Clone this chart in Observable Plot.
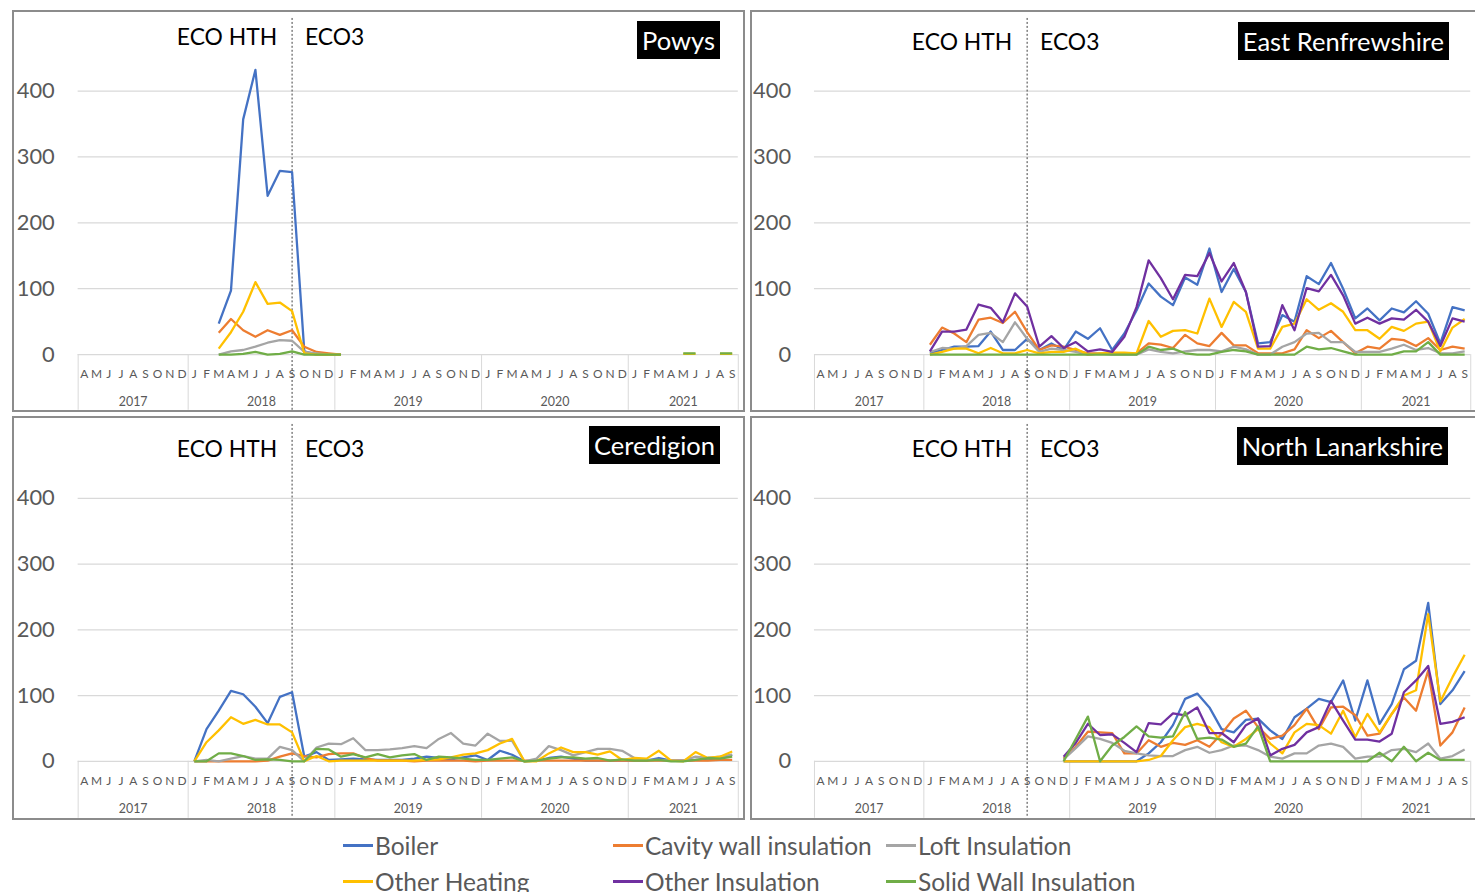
<!DOCTYPE html>
<html>
<head>
<meta charset="utf-8">
<script src="https://cdn.jsdelivr.net/npm/d3@7"></script>
<script src="https://cdn.jsdelivr.net/npm/@observablehq/plot@0.6"></script>
<style>
html, body { margin: 0; padding: 0; background: #fff; overflow: hidden; width: 1475px; height: 892px; }
#root { position: relative; width: 1475px; height: 892px; font-family: Lato, "Open Sans", sans-serif; }
.panel { position: absolute; box-sizing: border-box; border: 2px solid #8c8c8c; background: #fff; }
.panel svg { position: absolute; left: -2px; top: -2px; overflow: visible; }
.tag { position: absolute; background: #000; color: #fff; font-size: 25.5px; height: 38px; line-height: 38px; padding: 0 5px; white-space: nowrap; }
.leg { position: absolute; display: flex; align-items: center; height: 30px; font-size: 24.5px; color: #595959; white-space: nowrap; }
.leg .sw { display: inline-block; width: 30px; height: 3px; margin-right: 2px; }
</style>
</head>
<body>
<div id="root"></div>
<script>
// ---------- categories ----------
const monthInitials = ["J","F","M","A","M","J","J","A","S","O","N","D"];
const firstMonth = 3;          // April 2017 is month index 0
const monthCount = 54;         // Apr 2017 .. Sep 2021
const years = ["2017","2018","2019","2020","2021"];
const phaseLabels = ["ECO HTH", "ECO3"];
const phaseChange = 17;        // Sep 2018
const yTicks = [0, 100, 200, 300, 400];

const seriesNames = ["Boiler","Cavity wall insulation","Loft Insulation","Other Heating","Other Insulation","Solid Wall Insulation"];
const seriesColors = ["#4472C4","#ED7D31","#A5A5A5","#FFC000","#7030A0","#70AD47"];
const regionNames = ["Powys","East Renfrewshire","Ceredigion","North Lanarkshire"];

// ---------- Powys (from Mar 2018) ----------
const powysStart = 11;
const powysBoiler   = [47,97,357,432,241,279,277,5,0,0,0];
const powysCavity   = [33,54,37,27,37,30,37,12,4,2,0];
const powysLoft     = [0,5,7,12,18,22,21,4,2,0,0];
const powysHeating  = [9,34,65,110,77,79,66,2,0,0,0];
const powysSolid    = [0,0,1,4,0,1,5,0,0,0,0];
const powysLateStart = 49;     // May 2021
const powysHeatingLate = [1,1,null,1,1];
const powysSolidLate   = [2,2,null,2,2];

// ---------- East Renfrewshire (from Jan 2018) ----------
const eastStart = 9;
const eastBoiler  = [2,7,12,12,13,35,7,7,24,7,17,7,35,24,40,7,32,67,108,88,75,117,106,161,95,130,95,17,19,60,50,119,107,139,100,55,70,52,70,64,81,62,17,72,67];
const eastCavity  = [15,41,32,19,53,56,48,65,34,7,14,12,7,2,2,2,1,2,17,15,10,30,17,13,33,14,14,2,2,2,8,37,25,36,19,2,12,9,24,22,13,25,7,12,9];
const eastLoft    = [4,10,9,13,30,33,19,49,24,4,9,7,4,0,2,0,0,0,8,4,2,5,7,7,5,12,8,0,0,12,19,32,33,19,19,4,4,4,9,15,7,10,2,2,5];
const eastHeating = [0,4,9,9,2,10,2,2,7,2,4,4,9,0,2,3,3,2,51,27,36,37,32,85,42,80,65,9,9,42,47,84,68,78,65,37,37,24,42,36,47,50,5,41,54];
const eastOtherIns= [5,35,35,38,76,71,49,93,73,12,28,10,19,5,8,4,27,72,143,116,84,121,119,154,111,139,95,12,13,75,37,101,96,121,90,47,56,47,55,53,68,50,13,55,50];
const eastSolid   = [0,0,0,0,0,0,0,0,0,0,0,0,0,0,0,0,0,0,12,7,9,2,0,0,4,7,5,0,0,0,0,12,8,10,5,0,0,0,0,5,5,19,0,0,0];

// ---------- Ceredigion (from Jan 2018) ----------
const ceredStart = 9;
const ceredBoiler  = [0,49,77,107,102,83,58,98,105,7,14,2,3,4,3,2,2,2,4,7,5,3,6,9,2,16,10,0,1,5,7,4,1,1,1,1,1,1,5,1,1,2,2,4,10];
const ceredCavity  = [0,0,0,0,0,0,1,7,12,8,6,11,12,12,5,1,1,1,0,1,1,1,1,0,1,1,1,1,1,1,1,1,1,1,1,1,1,1,1,1,1,1,1,2,2];
const ceredLoft    = [0,2,0,4,8,4,4,22,17,0,21,27,26,35,17,17,18,20,23,20,34,43,27,24,42,31,31,0,4,23,17,9,14,19,19,16,5,2,2,1,1,7,5,7,10];
const ceredHeating = [0,29,47,67,57,63,56,56,44,0,8,0,1,1,1,1,1,1,1,2,3,6,10,12,17,27,34,0,0,12,21,14,14,10,15,2,5,4,16,1,0,14,5,7,15];
const ceredSolid   = [0,0,12,12,8,2,3,2,0,0,19,18,7,11,6,11,6,9,11,2,7,6,4,2,2,4,6,0,1,4,6,6,4,5,1,3,1,1,2,0,0,2,5,4,7];

// ---------- North Lanarkshire (from Dec 2018) ----------
const northStart = 20;
const northBoiler  = [0,0,0,0,0,0,0,12,29,55,95,103,82,49,44,63,65,47,34,67,80,95,90,123,62,123,57,87,140,153,241,87,108,137];
const northCavity  = [4,22,45,44,43,12,12,32,22,28,25,32,22,42,65,77,52,34,39,55,80,49,82,83,70,39,42,72,97,77,138,24,44,82];
const northLoft    = [3,20,38,34,28,16,12,9,8,8,17,22,13,17,24,24,17,7,4,12,12,24,27,22,4,7,7,17,19,14,27,4,8,18];
const northHeating = [0,0,0,0,0,0,0,2,8,32,52,57,52,29,22,34,49,27,12,44,57,55,42,77,37,72,44,72,100,108,224,91,128,162];
const northOtherIns= [7,28,57,40,41,28,14,58,56,73,70,82,43,43,29,55,65,9,19,25,44,52,92,62,33,33,30,42,105,123,145,57,60,67];
const northSolid   = [0,34,68,0,24,37,53,38,36,38,75,34,36,33,22,27,53,0,0,0,0,0,0,0,0,0,13,0,22,0,13,2,2,2];

// ---------- build tables ----------
function rows(parts) {
  const out = [];
  for (const p of parts) {
    p.values.forEach((v, k) => out.push({i: p.start + k, value: v, series: seriesNames[p.s], key: p.s + "|" + (p.part || 0)}));
  }
  return out;
}
const regionData = [
  rows([
    {s:0, start:powysStart, values:powysBoiler},
    {s:1, start:powysStart, values:powysCavity},
    {s:2, start:powysStart, values:powysLoft},
    {s:3, start:powysStart, values:powysHeating},
    {s:5, start:powysStart, values:powysSolid},
    {s:3, start:powysLateStart, values:powysHeatingLate, part:1},
    {s:5, start:powysLateStart, values:powysSolidLate, part:1}
  ]),
  rows([
    {s:0, start:eastStart, values:eastBoiler},
    {s:1, start:eastStart, values:eastCavity},
    {s:2, start:eastStart, values:eastLoft},
    {s:3, start:eastStart, values:eastHeating},
    {s:4, start:eastStart, values:eastOtherIns},
    {s:5, start:eastStart, values:eastSolid}
  ]),
  rows([
    {s:0, start:ceredStart, values:ceredBoiler},
    {s:1, start:ceredStart, values:ceredCavity},
    {s:2, start:ceredStart, values:ceredLoft},
    {s:3, start:ceredStart, values:ceredHeating},
    {s:5, start:ceredStart, values:ceredSolid}
  ]),
  rows([
    {s:0, start:northStart, values:northBoiler},
    {s:1, start:northStart, values:northCavity},
    {s:2, start:northStart, values:northLoft},
    {s:3, start:northStart, values:northHeating},
    {s:4, start:northStart, values:northOtherIns},
    {s:5, start:northStart, values:northSolid}
  ])
];

// month index -> year; year centres and boundaries
const monthIdx = d3.range(monthCount);
const yearOf = i => years[Math.floor((i + firstMonth) / 12)];
const yearGroups = d3.groups(monthIdx, yearOf);
const yearCenters = yearGroups.map(([y, ms]) => (ms[0] + ms[ms.length - 1]) / 2);
const yearBounds = [-0.5, ...yearGroups.map(([y, ms]) => ms[ms.length - 1] + 0.5)];

// ---------- layout ----------
const layouts = [
  {left:12,  top:10,  width:733, height:402, mL:66,   mR:3.2, mT:81,   mB:56,   titleDy:-54, tagRight:755, tagTop:21},
  {left:750, top:10,  width:733, height:402, mL:64.3, mR:8.8, mT:81,   mB:56,   titleDy:-48.5, tagRight:26, tagTop:22},
  {left:12,  top:416, width:733, height:404, mL:66,   mR:3.2, mT:82.3, mB:57.3, titleDy:-49, tagRight:755, tagTop:426},
  {left:750, top:416, width:733, height:404, mL:64.3, mR:8.8, mT:82.3, mB:57.3, titleDy:-49, tagRight:27, tagTop:427}
];

const root = document.getElementById("root");

layouts.forEach((L, r) => {
  const panel = document.createElement("div");
  panel.className = "panel";
  Object.assign(panel.style, {left: L.left + "px", top: L.top + "px", width: L.width + "px", height: L.height + "px"});
  const chart = Plot.plot({
    width: L.width, height: L.height,
    marginLeft: L.mL, marginRight: L.mR, marginTop: L.mT, marginBottom: L.mB,
    x: {type: "linear", domain: [-0.5, monthCount - 0.5], axis: null, label: null},
    y: {domain: [0, 400], axis: null, label: null},
    color: {domain: seriesNames, range: seriesColors},
    style: {fontFamily: "Lato, 'Open Sans', sans-serif", color: "#595959", background: "transparent", overflow: "visible"},
    marks: [
      Plot.gridY(yTicks.slice(1), {stroke: "#d9d9d9", strokeOpacity: 1, strokeWidth: 1.2}),
      Plot.ruleY([0], {stroke: "#d9d9d9", strokeWidth: 1.2}),
      Plot.axisY(yTicks, {tickSize: 0, tickPadding: 23.5, fontSize: 22, fill: "#595959", label: null}),
      Plot.axisX(monthIdx, {tickSize: 0, tickPadding: 15, fontSize: 12, fill: "#595959", label: null,
        tickFormat: i => monthInitials[(i + firstMonth) % 12]}),
      Plot.axisX(yearCenters, {tickSize: 0, tickPadding: 43, fontSize: 12.5, fill: "#595959", label: null,
        tickFormat: (c, k) => years[k]}),
      Plot.axisX(yearBounds, {tickSize: L.mB, tickFormat: () => "", stroke: "#d9d9d9", strokeOpacity: 1, label: null}),
      Plot.ruleX([phaseChange], {stroke: "#404040", strokeWidth: 1, strokeDasharray: "2,2",
        insetTop: -(L.mT - 8), insetBottom: -L.mB}),
      Plot.text([phaseLabels[0]], {x: () => phaseChange, frameAnchor: "top", dy: L.titleDy, dx: -15,
        textAnchor: "end", lineAnchor: "middle", fontSize: 23, fill: "#000"}),
      Plot.text([phaseLabels[1]], {x: () => phaseChange, frameAnchor: "top", dy: L.titleDy, dx: 13,
        textAnchor: "start", lineAnchor: "middle", fontSize: 23, fill: "#000"}),
      Plot.line(regionData[r], {x: "i", y: "value", z: "key", stroke: "series",
        strokeWidth: 2.3, strokeLinejoin: "round", strokeLinecap: "butt"})
    ]
  });
  panel.appendChild(chart);
  root.appendChild(panel);

  const tag = document.createElement("div");
  tag.className = "tag";
  tag.textContent = regionNames[r];
  Object.assign(tag.style, {right: L.tagRight + "px", top: L.tagTop + "px"});
  root.appendChild(tag);
});

// ---------- legend ----------
const legendCols = [343, 613, 886];
const legendRows = [845, 881];
seriesNames.forEach((name, k) => {
  const item = document.createElement("div");
  item.className = "leg";
  item.style.left = legendCols[k % 3] + "px";
  item.style.top = (legendRows[Math.floor(k / 3)] - 15) + "px";
  const sw = document.createElement("span");
  sw.className = "sw";
  sw.style.background = seriesColors[k];
  const tx = document.createElement("span");
  tx.textContent = name;
  item.appendChild(sw);
  item.appendChild(tx);
  root.appendChild(item);
});
</script>
</body>
</html>
